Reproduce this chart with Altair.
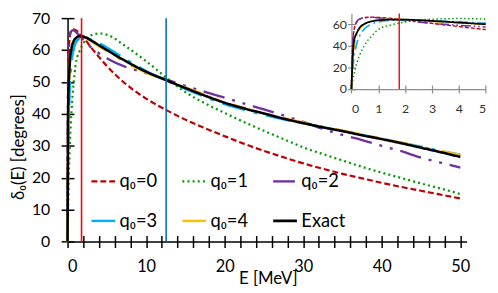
import altair as alt
import pandas as pd

# ---------------- data ----------------
E = [0, 0.05, 0.1, 0.2, 0.3, 0.5, 0.75, 1, 1.5, 2, 3, 4, 5, 7.5, 10, 12.5, 15,
     17.5, 20, 22.5, 25, 27.5, 30, 32.5, 35, 37.5, 40, 42.5, 45, 47.5, 50]

q0_0 = [0, 45, 55, 62, 64.5, 66.2, 66.5, 66.3, 65.3, 64.0, 60.8, 57.8, 55.0, 49.2,
        44.8, 41.3, 38.2, 35.5, 33.0, 30.6, 28.4, 26.4, 24.5, 22.8, 21.2, 19.8,
        18.4, 17.1, 15.9, 14.7, 13.5]
q0_1 = [0, 8, 14, 24, 31, 41, 49, 55, 59.5, 62.0, 64.6, 65.2, 64.8, 61.0, 56.5,
        51.5, 46.8, 43.3, 40.3, 37.4, 34.7, 32.1, 29.5, 27.4, 25.4, 23.4, 21.6,
        19.9, 18.2, 16.6, 14.9]
q0_2 = [0, 42, 55, 62.5, 64.8, 66, 66.2, 65.8, 64.6, 63.3, 60.8, 59.0, 57.4, 54.6,
        52.8, 50.8, 48.8, 46.9, 45.1, 43.2, 41.4, 39.5, 37.5, 35.3, 33.4, 31.8,
        30.0, 28.3, 26.3, 24.7, 23.2]
q0_3 = [0, 18, 30, 42, 49, 56, 60, 62, 63.6, 64.0, 63.3, 62.2, 60.8, 57.0, 53.4,
        50.5, 47.8, 45.3, 43.1, 41.3, 39.7, 38.3, 37.0, 35.8, 34.6, 33.4, 32.2,
        31.0, 29.7, 28.4, 27.2]
q0_4 = [0, 24, 38, 50, 55.5, 60, 62.6, 63.8, 64.6, 64.3, 62.8, 61.2, 59.7, 55.9,
        52.9, 50.5, 48.3, 46.0, 43.7, 41.8, 40.2, 38.7, 37.3, 36.0, 34.8, 33.5,
        32.3, 31.0, 29.7, 28.4, 27.1]
exact = [0, 30, 45, 52, 56.5, 60.5, 62.6, 63.6, 64.3, 64.2, 63.0, 61.5, 60.0, 56.4,
         53.2, 50.6, 48.1, 45.7, 43.5, 41.7, 40.1, 38.5, 37.1, 35.8, 34.6, 33.3,
         32.1, 30.8, 29.4, 28.0, 26.5]

series_names = ["q\u2080=0", "q\u2080=1", "q\u2080=2", "q\u2080=3", "q\u2080=4", "Exact"]
series_values = [q0_0, q0_1, q0_2, q0_3, q0_4, exact]
colors = ["#C00000", "#009A00", "#7030A0", "#00B0F0", "#FFC000", "#000000"]
main_dash = [[6, 3], [2, 3.2], [22, 8, 3, 8, 3, 8], [24, 9, 4, 9], [26, 12, 4.5, 12], [1, 0]]
main_width = [2.2, 2.6, 3.2, 4.5, 4.5, 1.8]
inset_dash = [[4, 2], [1.5, 2.5], [10, 3, 1.5, 3, 1.5, 3], [10, 4, 2, 4], [10, 4, 2, 4], [1, 0]]
inset_width = [1.4, 1.8, 2.0, 2.2, 2.2, 1.5]

vline_E = [1.78, 12.55]
vline_colors = ["#FF0000", "#0070C0"]
inset_vline_E = [1.78]

x_ticks = list(range(0, 51, 2))
y_ticks = list(range(0, 71, 10))
inset_x_ticks = [0, 1, 2, 3, 4, 5]
inset_y_ticks = [0, 20, 40, 60]

rows = []
for name, vals in zip(series_names, series_values):
    for e, v in zip(E, vals):
        rows.append({"E": e, "deg": v, "series": name})
df = pd.DataFrame(rows)

# ---------------- layout ----------------
TOP = 8.5
W, H = 404, 226.2
FONT = "Lato"
INX0, INX1 = 287.4, 423.4
INY0 = 71.8
INYTOP = -4.8

xs_main = alt.Scale(domain=[0, 50.8], nice=False, zero=False)
ys_main = alt.Scale(domain=[0, 70], nice=False)
xs_in = alt.Scale(domain=[0, 5], range=[INX0, INX1], nice=False, zero=False)
ys_in = alt.Scale(domain=[0, 70], range=[INY0, INYTOP], nice=False)

legend = alt.Legend(title=None, orient="none", legendX=22.7, legendY=151.8,
                    columns=3, direction="horizontal", symbolType="stroke",
                    symbolSize=576, labelFont=FONT, labelFontSize=18.5,
                    labelColor="black", labelOffset=3, rowPadding=17,
                    columnPadding=20)

lines = alt.Chart(df).mark_line(interpolate="monotone").encode(
    x=alt.X("E:Q", scale=xs_main, axis=alt.Axis(
        orient="bottom", values=x_ticks, grid=False,
        labelExpr="datum.value % 10 === 0 ? datum.label : ''",
        domainColor="black", domainWidth=1.5, tickColor="black", tickWidth=1.5,
        tickSize=6, labelPadding=11, labelFont=FONT, labelFontSize=16.5,
        labelColor="black", title="E [MeV]", titleFont=FONT, titleFontSize=17,
        titleFontWeight="normal", titleColor="black", titleX=202.7, titleY=37.3,
        titleBaseline="middle", titleAlign="center")),
    y=alt.Y("deg:Q", scale=ys_main, axis=alt.Axis(
        orient="left", values=y_ticks, grid=False,
        domainColor="black", domainWidth=1.5, tickColor="black", tickWidth=1.5,
        tickSize=6.5, labelPadding=11.5, labelFont=FONT, labelFontSize=16,
        labelColor="black", title="\u03b4\u2080(E) [degrees]", titleFont=FONT,
        titleFontSize=17, titleFontWeight="normal", titleColor="black",
        titleAngle=270, titleX=-49.5, titleY=130, titleBaseline="middle",
        titleAlign="center")),
    color=alt.Color("series:N", scale=alt.Scale(domain=series_names, range=colors), legend=legend),
    strokeDash=alt.StrokeDash("series:N", scale=alt.Scale(domain=series_names, range=main_dash), legend=legend),
    strokeWidth=alt.StrokeWidth("series:N", scale=alt.Scale(domain=series_names, range=main_width), legend=legend),
)

rules = []
for e, c in zip(vline_E, vline_colors):
    rules.append(
        alt.Chart(pd.DataFrame({"E": [e]})).mark_rule(color=c, strokeWidth=1.6).encode(
            x=alt.X("E:Q", scale=xs_main, axis=None)))

dup_axes = alt.Chart(df).mark_line(opacity=0).encode(
    x=alt.X("E:Q", scale=xs_main, axis=alt.Axis(
        orient="top", offset=-H, values=x_ticks, labels=False, domain=False,
        grid=False, tickColor="black", tickWidth=1.5, tickSize=6, title=None)),
    y=alt.Y("deg:Q", scale=ys_main, axis=alt.Axis(
        orient="right", offset=-W, values=y_ticks, labels=False, domain=False,
        grid=False, tickColor="black", tickWidth=1.5, tickSize=6.5, title=None)),
)

main = alt.layer(lines, *rules, dup_axes).resolve_axis(x="independent", y="independent")

# ---------------- inset ----------------
AX_GREY = "#8c8c8c"
inset_lines = alt.Chart(df).transform_filter("datum.E <= 5").mark_line(
    interpolate="monotone").encode(
    x=alt.X("E:Q", scale=xs_in, axis=alt.Axis(
        orient="bottom", offset=-(H - INY0), values=inset_x_ticks, grid=False,
        domainColor=AX_GREY, domainWidth=1.2, tickColor=AX_GREY, tickWidth=1.2,
        tickSize=4, labelPadding=9.5, labelFont=FONT, labelFontSize=12.5,
        labelColor="#333333", title=None)),
    y=alt.Y("deg:Q", scale=ys_in, axis=alt.Axis(
        orient="left", offset=-INX0, values=inset_y_ticks, grid=False,
        domainColor=AX_GREY, domainWidth=1.2, tickColor=AX_GREY, tickWidth=1.2,
        tickSize=4, labelPadding=1, labelFont=FONT, labelFontSize=12.5,
        labelColor="#333333", title=None)),
    color=alt.Color("series:N", scale=alt.Scale(domain=series_names, range=colors), legend=None),
    strokeDash=alt.StrokeDash("series:N", scale=alt.Scale(domain=series_names, range=inset_dash), legend=None),
    strokeWidth=alt.StrokeWidth("series:N", scale=alt.Scale(domain=series_names, range=inset_width), legend=None),
)

inset_rule = alt.Chart(pd.DataFrame({"E": inset_vline_E})).mark_rule(
    color="#FF0000", strokeWidth=1.4).encode(
    x=alt.X("E:Q", scale=xs_in, axis=None),
    y=alt.Y(datum=0, type="quantitative", scale=ys_in, axis=None),
    y2=alt.Y2(datum=70),
)

inset_dup = alt.Chart(df).transform_filter("datum.E <= 5").mark_line(opacity=0).encode(
    x=alt.X("E:Q", scale=xs_in, axis=alt.Axis(
        orient="top", offset=-INY0, values=inset_x_ticks, labels=False,
        domain=False, grid=False, tickColor=AX_GREY, tickWidth=1.2, tickSize=4,
        title=None)),
    y=alt.Y("deg:Q", scale=ys_in, axis=alt.Axis(
        orient="right", offset=-(W - INX0), values=inset_y_ticks, labels=False,
        domain=False, grid=False, tickColor=AX_GREY, tickWidth=1.2, tickSize=4,
        title=None)),
)

inset = alt.layer(inset_lines, inset_rule, inset_dup).resolve_axis(x="independent", y="independent")

chart = alt.layer(main, inset).resolve_scale(
    x="independent", y="independent", color="independent",
    strokeDash="independent", strokeWidth="independent"
).properties(
    width=W, height=H,
    autosize=alt.AutoSizeParams(type="none"),
    padding={"left": 60.3, "top": TOP, "right": 23.7, "bottom": 48},
    background="white",
).configure_view(stroke=None)

chart.save("out.html", embed_options={"renderer": "svg", "actions": False})
